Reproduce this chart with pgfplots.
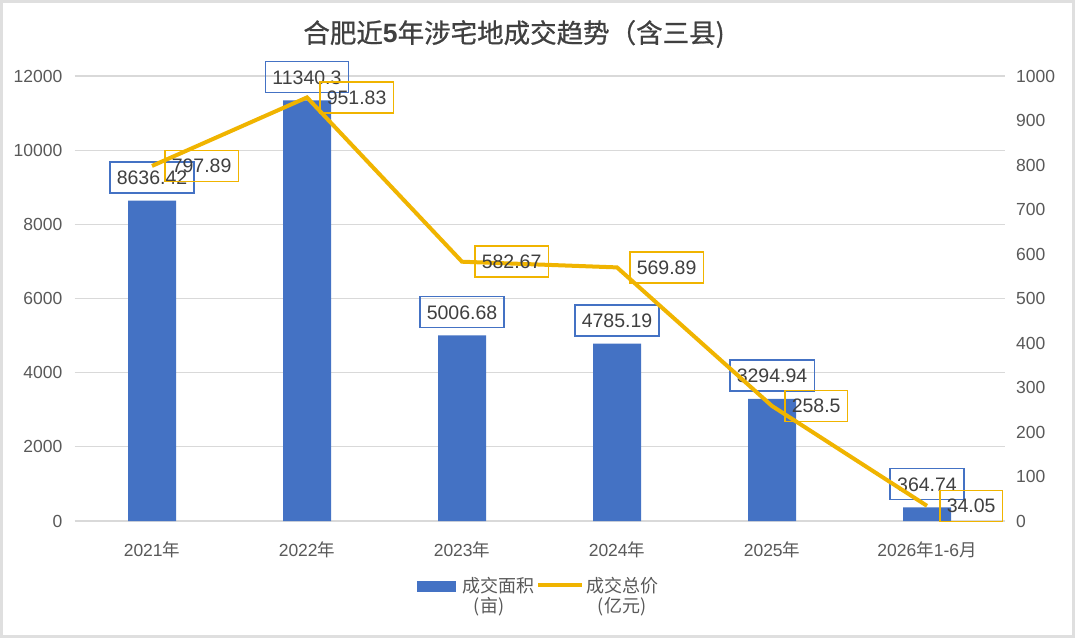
\documentclass[border=0pt]{standalone}
\usepackage{fontspec}
\setmainfont{Liberation Sans}
\newfontfamily\cjk{Noto Sans CJK SC}
\newfontfamily\cjkt{Noto Sans CJK SC}[FakeBold=0.8]
\usepackage{pgfplots}
\pgfplotsset{compat=1.18}
\definecolor{barblue}{HTML}{4472C4}
\definecolor{gold}{HTML}{F0B400}
\definecolor{txt}{HTML}{595959}
\definecolor{lbl}{HTML}{404040}
\definecolor{gridc}{HTML}{D9D9D9}
\pgfplotsset{common/.style={
  at={(74.5pt,117pt)}, anchor=south west, scale only axis,
  width=930pt, height=445pt,
  xmin=-0.5, xmax=5.5,
  axis line style={draw=none}, tick style={draw=none},
  scaled y ticks=false,
  /pgf/number format/assume math mode=true,
  /pgf/number format/1000 sep={},
  ticklabel style={font=\fontsize{17.5}{20}\selectfont, text=txt, inner sep=0pt},
  clip=false,
}}
\begin{document}
\begin{tikzpicture}
\path[use as bounding box] (0,0) rectangle (1075pt,638pt);
\fill[white] (0,0) rectangle (1075pt,638pt);
\begin{axis}[common,
  ymin=0, ymax=12000, ytick={0,2000,...,12000},
  ymajorgrids, grid style={gridc, line width=1.2pt},
  xtick={0,...,5},
  xticklabels={2021{\cjk 年},2022{\cjk 年},2023{\cjk 年},2024{\cjk 年},2025{\cjk 年},2026{\cjk 年}1-6{\cjk 月}},
  xticklabel style={anchor=base, yshift=-31pt},
  yticklabel style={anchor=east, xshift=-12pt},
  ybar, bar width=48pt,
  point meta=explicit symbolic,
  nodes near coords,
  every node near coord/.append style={anchor=south, yshift=7pt, draw=barblue, line width=1.5pt,
    font=\fontsize{19.5}{22}\selectfont, text=lbl, inner xsep=7pt, text height=14pt, text depth=0pt, inner ysep=8.5pt},
]
\addplot[fill=barblue, draw=none, bar shift=0pt] coordinates {
  (0,8636.42)[8636.42]
  (1,11340.3)[11340.3]
  (2,5006.68)[5006.68]
  (3,4785.19)[4785.19]
  (4,3294.94)[3294.94]
  (5,364.74)[364.74]
};
\end{axis}
\begin{axis}[common,
  ymin=0, ymax=1000, ytick={0,100,...,1000},
  xtick=\empty,
  yticklabel pos=right,
  yticklabel style={anchor=west, xshift=11.5pt},
  point meta=explicit symbolic,
  nodes near coords,
  every node near coord/.append style={anchor=west, xshift=12pt, draw=gold, line width=1.5pt,
    font=\fontsize{19.5}{22}\selectfont, text=lbl, inner xsep=7pt, text height=14pt, text depth=0pt, inner ysep=8.5pt},
]
\addplot[gold, line width=4pt, mark=none] coordinates {
  (0,797.89)[797.89]
  (1,951.83)[951.83]
  (2,582.67)[582.67]
  (3,569.89)[569.89]
  (4,258.5)[258.5]
  (5,34.05)[34.05]
};
\end{axis}
% title
\node[text=lbl, inner sep=0pt] at (514pt,604pt) {\fontsize{26.5}{30}\cjkt 合肥近{\rmfamily\bfseries 5}年涉宅地成交趋势（含三县)};
% legend
\fill[barblue] (417pt,46pt) rectangle (456pt,57pt);
\node[anchor=west, inner sep=0pt, text=txt] at (462pt,52pt) {\fontsize{18}{20}\cjk 成交面积};
\node[inner sep=0pt, text=txt] at (489pt,31pt) {\fontsize{18}{20}\cjk (亩)};
\draw[gold, line width=4pt] (538pt,53pt) -- (582pt,53pt);
\node[anchor=west, inner sep=0pt, text=txt] at (586pt,52pt) {\fontsize{18}{20}\cjk 成交总价};
\node[inner sep=0pt, text=txt] at (622pt,31pt) {\fontsize{18}{20}\cjk (亿元)};
% frame
\draw[gray!25, line width=3pt] (1.5pt,1.5pt) rectangle (1073.5pt,636.5pt);
\end{tikzpicture}
\end{document}
